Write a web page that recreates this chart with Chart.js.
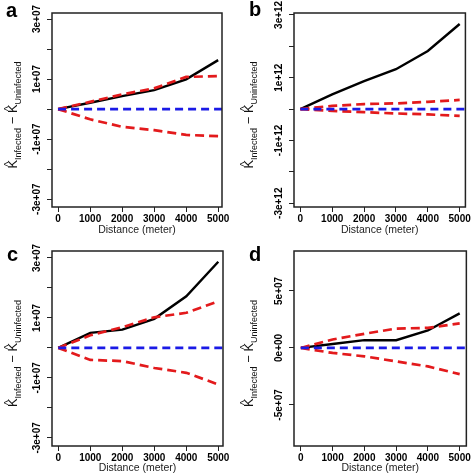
<!DOCTYPE html>
<html>
<head>
<meta charset="utf-8">
<script src="https://cdn.jsdelivr.net/npm/chart.js@4"></script>
<style>
body { margin: 0; background: #fff; }
#wrap { position: relative; width: 472px; height: 476px; }
canvas { position: absolute; }
</style>
</head>
<body>
<div id="wrap">
  <canvas id="panelA" width="236" height="238" style="left:0;top:0"></canvas>
  <canvas id="panelB" width="236" height="238" style="left:236px;top:0"></canvas>
  <canvas id="panelC" width="236" height="238" style="left:0;top:238px"></canvas>
  <canvas id="panelD" width="236" height="238" style="left:236px;top:238px"></canvas>
</div>
<script>
// distances (meter)
var distance = [0, 1000, 2000, 3000, 4000, 5000];
var xTicks = [0, 1000, 2000, 3000, 4000, 5000];

// panel a
var aObserved = [0, 0.21e7, 0.43e7, 0.63e7, 0.99e7, 1.63e7];
var aUpper = [0, 0.24e7, 0.49e7, 0.69e7, 1.07e7, 1.1e7];
var aLower = [0, -0.34e7, -0.59e7, -0.7e7, -0.86e7, -0.9e7];
var aTicks = [-3e7, -2e7, -1e7, 0, 1e7, 2e7, 3e7];
var aLabelValues = [-3e7, -1e7, 1e7, 3e7];
var aLabels = ['-3e+07', '-1e+07', '1e+07', '3e+07'];

// panel b
var bObserved = [0, 0.47e12, 0.89e12, 1.27e12, 1.85e12, 2.71e12];
var bUpper = [0, 0.1e12, 0.16e12, 0.18e12, 0.23e12, 0.29e12];
var bLower = [0, -0.06e12, -0.1e12, -0.14e12, -0.17e12, -0.22e12];
var bTicks = [-3e12, -2e12, -1e12, 0, 1e12, 2e12, 3e12];
var bLabelValues = [-3e12, -1e12, 1e12, 3e12];
var bLabels = ['-3e+12', '-1e+12', '1e+12', '3e+12'];

// panel c
var cObserved = [0, 0.5e7, 0.61e7, 0.97e7, 1.72e7, 2.87e7];
var cUpper = [0, 0.42e7, 0.69e7, 1.02e7, 1.17e7, 1.55e7];
var cLower = [0, -0.4e7, -0.44e7, -0.67e7, -0.83e7, -1.22e7];
var cTicks = [-3e7, -2e7, -1e7, 0, 1e7, 2e7, 3e7];
var cLabelValues = [-3e7, -1e7, 1e7, 3e7];
var cLabels = ['-3e+07', '-1e+07', '1e+07', '3e+07'];

// panel d
var dObserved = [0, 0.35e7, 0.68e7, 0.68e7, 1.53e7, 3.03e7];
var dUpper = [0, 0.74e7, 1.24e7, 1.7e7, 1.76e7, 2.15e7];
var dLower = [0, -0.44e7, -0.74e7, -1.18e7, -1.62e7, -2.3e7];
var dTicks = [-5e7, 0, 5e7];
var dLabelValues = [-5e7, 0, 5e7];
var dLabels = ['-5e+07', '0e+00', '5e+07'];

var FONT = '"Liberation Sans", Arial, sans-serif';
Chart.defaults.font.family = FONT;
var RED = '#e31a1c';
var BLUE = '#1a1ae6';
var W = 236, H = 238;

function pts(values) {
    return distance.map(function (d, i) { return { x: d, y: values[i] }; });
}

function drawYTitle(ctx, cx, cy) {
    var big = '13px ' + FONT, small = '9px ' + FONT;
    var parts = [
        { t: 'K', f: big, dy: 0, hat: true },
        { t: 'Infected', f: small, dy: 3.5 },
        { t: ' \u2212 ', f: big, dy: 0 },
        { t: 'K', f: big, dy: 0, hat: true },
        { t: 'Uninfected', f: small, dy: 3.5 }
    ];
    ctx.save();
    ctx.translate(cx, cy);
    ctx.rotate(-Math.PI / 2);
    ctx.fillStyle = '#111';
    ctx.textAlign = 'left';
    ctx.textBaseline = 'alphabetic';
    var total = 0;
    parts.forEach(function (p) { ctx.font = p.f; p.w = ctx.measureText(p.t).width; total += p.w; });
    var x = -total / 2;
    parts.forEach(function (p) {
        ctx.font = p.f;
        ctx.fillText(p.t, x, p.dy);
        if (p.hat) {
            ctx.font = '10px ' + FONT;
            ctx.textAlign = 'center';
            ctx.fillText('^', x + p.w / 2, -5.5);
            ctx.textAlign = 'left';
        }
        x += p.w;
    });
    ctx.restore();
}

function decor(p) {
    return {
        id: 'decor',
        afterDraw: function (chart) {
            var ctx = chart.ctx, a = chart.chartArea, ys = chart.scales.y;
            ctx.save();
            ctx.strokeStyle = '#222';
            ctx.lineWidth = 1.5;
            ctx.strokeRect(a.left, a.top, a.right - a.left, a.bottom - a.top);
            ctx.font = 'bold 10px ' + FONT;
            ctx.fillStyle = '#000';
            ctx.textAlign = 'center';
            ctx.textBaseline = 'alphabetic';
            p.labelValues.forEach(function (v, i) {
                ctx.save();
                ctx.translate(a.left - 12, ys.getPixelForValue(v));
                ctx.rotate(-Math.PI / 2);
                ctx.fillText(p.labels[i], 0, 0);
                ctx.restore();
            });
            ctx.font = 'bold 20px ' + FONT;
            ctx.textAlign = 'left';
            ctx.fillText(p.letter, p.letterX, p.letterY);
            ctx.restore();
            drawYTitle(ctx, 17, (a.top + a.bottom) / 2 + 5);
        }
    };
}

function makeChart(id, p) {
    return new Chart(document.getElementById(id), {
        type: 'line',
        data: {
            datasets: [
                { data: [{ x: distance[0], y: 0 }, { x: p.xMax, y: 0 }], borderColor: BLUE, borderDash: [8, 5], borderWidth: 2.7 },
                { data: pts(p.upper), borderColor: RED, borderDash: [9, 5], borderWidth: 2.7 },
                { data: pts(p.lower), borderColor: RED, borderDash: [9, 5], borderWidth: 2.7 },
                { data: pts(p.observed), borderColor: '#000', borderWidth: 2.4 }
            ]
        },
        options: {
            responsive: false,
            animation: false,
            elements: { point: { radius: 0 }, line: { tension: 0, fill: false } },
            layout: { padding: { left: 0, top: p.box.t, right: W - p.box.r, bottom: 0 } },
            plugins: { legend: { display: false }, tooltip: { enabled: false } },
            scales: {
                x: {
                    type: 'linear',
                    min: p.xMin,
                    max: p.xMax,
                    afterBuildTicks: function (s) { s.ticks = xTicks.map(function (v) { return { value: v }; }); },
                    afterFit: function (s) { s.height = H - p.box.b; },
                    grid: { drawOnChartArea: false, tickLength: 5, color: '#222' },
                    border: { display: false },
                    ticks: {
                        font: { size: 10, weight: 'bold' }, color: '#000', padding: 1,
                        maxRotation: 0, autoSkip: false,
                        callback: function (v) { return String(v); }
                    },
                    title: { display: true, text: 'Distance (meter)', font: { size: 10.5 }, color: '#222', padding: { top: 0, bottom: 1.5 } }
                },
                y: {
                    type: 'linear',
                    min: p.yMin,
                    max: p.yMax,
                    afterBuildTicks: function (s) { s.ticks = p.ticks.map(function (v) { return { value: v }; }); },
                    afterFit: function (s) { s.width = p.box.l; },
                    grid: { drawOnChartArea: false, tickLength: 5, color: '#222' },
                    border: { display: false },
                    ticks: { display: false }
                }
            }
        },
        plugins: [decor(p)]
    });
}

makeChart('panelA', {
    letter: 'a', letterX: 6, letterY: 17,
    box: { l: 52, r: 222, t: 13, b: 207 },
    xMin: -190, xMax: 5120, yMin: -3.26e7, yMax: 3.2e7,
    observed: aObserved, upper: aUpper, lower: aLower,
    ticks: aTicks, labelValues: aLabelValues, labels: aLabels
});
makeChart('panelB', {
    letter: 'b', letterX: 13, letterY: 16,
    box: { l: 58, r: 230, t: 13, b: 207 },
    xMin: -200, xMax: 5180, yMin: -3.12e12, yMax: 3.06e12,
    observed: bObserved, upper: bUpper, lower: bLower,
    ticks: bTicks, labelValues: bLabelValues, labels: bLabels
});
makeChart('panelC', {
    letter: 'c', letterX: 7, letterY: 23,
    box: { l: 52, r: 223, t: 13, b: 208 },
    xMin: -197, xMax: 5147, yMin: -3.27e7, yMax: 3.23e7,
    observed: cObserved, upper: cUpper, lower: cLower,
    ticks: cTicks, labelValues: cLabelValues, labels: cLabels
});
makeChart('panelD', {
    letter: 'd', letterX: 13, letterY: 23,
    box: { l: 58, r: 231, t: 13, b: 208 },
    xMin: -215, xMax: 5210, yMin: -8.6e7, yMax: 8.5e7,
    observed: dObserved, upper: dUpper, lower: dLower,
    ticks: dTicks, labelValues: dLabelValues, labels: dLabels
});
</script>
</body>
</html>
